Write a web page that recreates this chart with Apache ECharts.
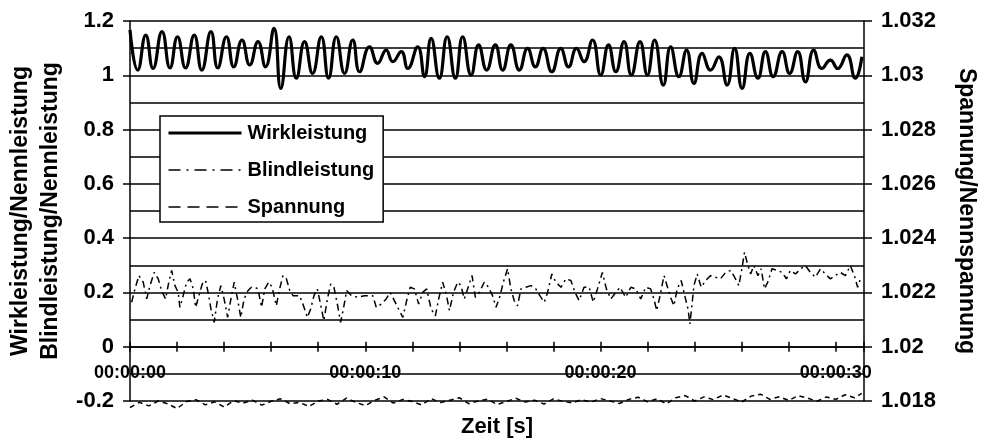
<!DOCTYPE html>
<html>
<head>
<meta charset="utf-8">
<script src="https://cdn.jsdelivr.net/npm/echarts@6/dist/echarts.min.js"></script>
<style>html,body{margin:0;padding:0;background:#fff}#c{width:981px;height:439px}</style>
</head>
<body>
<div id="c"></div>
<script>
// Wirkleistung (left axis): [time s, value]
const wirkPoints = [
[0.00,1.167],[0.33,1.019],[0.67,1.148],[0.98,1.025],[1.36,1.161],[1.70,1.027],[2.02,1.142],[2.36,1.027],[2.73,1.148],[3.05,1.019],
[3.44,1.161],[3.73,1.027],[4.10,1.142],[4.41,1.031],[4.76,1.130],[5.09,1.038],[5.44,1.124],[5.76,1.031],[6.12,1.173],[6.41,0.952],
[6.76,1.142],[7.07,0.989],[7.42,1.124],[7.76,1.007],[8.13,1.142],[8.44,0.989],[8.77,1.142],[9.12,1.007],[9.47,1.130],[9.76,1.013],
[10.18,1.105],[10.53,1.044],[10.89,1.093],[11.17,1.050],[11.53,1.087],[11.81,1.025],[12.23,1.105],[12.52,0.995],[12.80,1.136],[13.15,0.989],
[13.48,1.142],[13.83,0.989],[14.14,1.142],[14.50,1.001],[14.82,1.112],[15.16,1.019],[15.53,1.112],[15.84,1.019],[16.19,1.112],[16.55,1.019],
[16.90,1.099],[17.23,1.031],[17.56,1.099],[17.93,1.013],[18.31,1.099],[18.64,1.031],[18.98,1.099],[19.30,1.050],[19.66,1.130],[20.01,1.001],
[20.34,1.112],[20.65,1.013],[21.00,1.124],[21.31,1.001],[21.68,1.124],[21.99,1.001],[22.30,1.130],[22.67,0.964],[22.98,1.105],[23.33,0.995],
[23.66,1.093],[23.97,0.970],[24.32,1.081],[24.68,1.019],[25.03,1.068],[25.38,0.964],[25.70,1.099],[26.02,0.952],[26.35,1.081],[26.69,0.989],
[27.01,1.087],[27.34,0.995],[27.72,1.087],[28.04,1.007],[28.38,1.087],[28.71,0.976],[29.06,1.093],[29.41,1.025],[29.77,1.056],[30.08,1.025],
[30.47,1.075],[30.83,0.989],[31.11,1.068]
];
// Blindleistung (left axis)
const blindPoints = [
[0.07,0.164],[0.21,0.213],[0.38,0.262],[0.56,0.238],[0.71,0.176],[0.85,0.225],[1.03,0.274],[1.20,0.250],[1.34,0.207],[1.51,0.176],
[1.65,0.238],[1.77,0.281],[1.91,0.225],[2.05,0.200],[2.12,0.145],[2.26,0.188],[2.41,0.238],[2.55,0.250],[2.69,0.213],[2.79,0.145],
[2.93,0.188],[3.07,0.231],[3.21,0.244],[3.32,0.200],[3.44,0.139],[3.58,0.090],[3.72,0.176],[3.86,0.225],[4.00,0.176],[4.15,0.108],
[4.29,0.176],[4.43,0.238],[4.57,0.176],[4.71,0.108],[4.85,0.176],[5.02,0.207],[5.16,0.219],[5.30,0.219],[5.44,0.213],[5.59,0.145],
[5.73,0.213],[5.90,0.238],[6.04,0.219],[6.22,0.151],[6.36,0.213],[6.50,0.262],[6.65,0.250],[6.79,0.207],[6.93,0.188],[7.07,0.188],
[7.21,0.188],[7.35,0.157],[7.54,0.108],[7.68,0.139],[7.82,0.188],[7.96,0.213],[8.10,0.157],[8.24,0.096],[8.39,0.176],[8.53,0.231],
[8.67,0.219],[8.84,0.145],[8.95,0.090],[9.07,0.139],[9.21,0.207],[9.41,0.188],[9.69,0.182],[9.97,0.188],[10.32,0.188],[10.47,0.145],
[10.68,0.157],[10.89,0.176],[11.06,0.200],[11.20,0.176],[11.38,0.145],[11.60,0.108],[11.76,0.170],[11.91,0.219],[12.09,0.213],[12.27,0.157],
[12.44,0.200],[12.61,0.213],[12.80,0.139],[12.98,0.114],[13.12,0.176],[13.29,0.238],[13.44,0.194],[13.58,0.133],[13.75,0.200],[13.93,0.238],
[14.07,0.225],[14.21,0.176],[14.35,0.213],[14.54,0.262],[14.68,0.182],[14.85,0.200],[15.06,0.238],[15.24,0.219],[15.41,0.188],[15.56,0.145],
[15.73,0.188],[15.87,0.238],[16.05,0.287],[16.19,0.213],[16.33,0.170],[16.47,0.151],[16.62,0.213],[16.83,0.219],[17.04,0.225],[17.25,0.213],
[17.42,0.188],[17.61,0.164],[17.75,0.200],[17.93,0.268],[18.10,0.238],[18.32,0.219],[18.53,0.250],[18.74,0.244],[18.92,0.200],[19.09,0.170],
[19.30,0.219],[19.52,0.219],[19.69,0.164],[19.87,0.213],[20.08,0.274],[20.25,0.213],[20.44,0.176],[20.65,0.200],[20.83,0.219],[21.07,0.182],
[21.29,0.219],[21.50,0.213],[21.71,0.176],[21.92,0.219],[22.13,0.213],[22.27,0.176],[22.39,0.133],[22.53,0.188],[22.70,0.262],[22.87,0.213],
[22.98,0.182],[23.12,0.151],[23.26,0.213],[23.43,0.244],[23.58,0.188],[23.72,0.139],[23.80,0.084],[23.90,0.164],[23.97,0.225],[24.11,0.268],
[24.28,0.219],[24.47,0.244],[24.68,0.262],[24.89,0.256],[25.10,0.250],[25.32,0.274],[25.53,0.281],[25.70,0.256],[25.88,0.225],[26.02,0.293],
[26.12,0.348],[26.23,0.311],[26.38,0.268],[26.52,0.299],[26.69,0.262],[26.83,0.287],[26.97,0.213],[27.11,0.238],[27.29,0.287],[27.50,0.281],
[27.72,0.274],[27.90,0.250],[28.07,0.281],[28.29,0.268],[28.50,0.287],[28.71,0.299],[28.92,0.274],[29.13,0.256],[29.35,0.287],[29.56,0.268],
[29.77,0.250],[29.98,0.262],[30.19,0.274],[30.41,0.262],[30.62,0.299],[30.79,0.262],[30.93,0.219],[31.07,0.256]
];
// Spannung (right axis)
const spannPoints = [
[0.0,1.01776],[0.4,1.01795],[0.8,1.01782],[1.2,1.01800],[1.6,1.01790],[2.0,1.01772],[2.4,1.01798],[2.8,1.01805],[3.2,1.01786],[3.6,1.01797],
[4.0,1.01778],[4.4,1.01801],[4.8,1.01792],[5.2,1.01803],[5.6,1.01785],[6.0,1.01799],[6.4,1.01808],[6.8,1.01790],[7.2,1.01795],[7.6,1.01780],
[8.0,1.01800],[8.4,1.01806],[8.8,1.01788],[9.2,1.01811],[9.6,1.01795],[10.0,1.01783],[10.4,1.01802],[10.8,1.01815],[11.2,1.01792],[11.6,1.01806],
[12.0,1.01798],[12.4,1.01785],[12.8,1.01809],[13.2,1.01794],[13.6,1.01803],[14.0,1.01812],[14.4,1.01790],[14.8,1.01800],[15.2,1.01807],[15.6,1.01787],
[16.0,1.01798],[16.4,1.01810],[16.8,1.01796],[17.2,1.01803],[17.6,1.01789],[18.0,1.01808],[18.4,1.01799],[18.8,1.01793],[19.2,1.01805],[19.6,1.01796],
[20.0,1.01809],[20.4,1.01800],[20.8,1.01791],[21.2,1.01806],[21.6,1.01814],[22.0,1.01797],[22.4,1.01808],[22.8,1.01789],[23.2,1.01812],[23.6,1.01820],
[24.0,1.01800],[24.4,1.01815],[24.8,1.01805],[25.2,1.01822],[25.6,1.01810],[26.0,1.01796],[26.4,1.01818],[26.8,1.01825],[27.2,1.01806],[27.6,1.01816],
[28.0,1.01802],[28.4,1.01820],[28.8,1.01811],[29.2,1.01799],[29.6,1.01815],[30.0,1.01806],[30.4,1.01823],[30.8,1.01812],[31.1,1.01828]
];
const seriesNames = ['Wirkleistung', 'Blindleistung', 'Spannung'];
const timeLabelSeconds = [0, 10, 20, 30];

const FONT = '"Liberation Sans", Arial, sans-serif';
const txt = (size) => ({ color: '#000', fontFamily: FONT, fontWeight: 'bold', fontSize: size });
const pad2 = n => (n < 10 ? '0' : '') + n;
const hiddenSymbol = { color: 'rgba(0,0,0,0)', borderWidth: 0, opacity: 0 };

const chart = echarts.init(document.getElementById('c'), null, { renderer: 'canvas' });
chart.setOption({
  animation: false,
  backgroundColor: '#fff',
  grid: { left: 130, right: 117, top: 21, bottom: 38, containLabel: false, outerBoundsMode: 'none' },
  legend: {
    orient: 'vertical',
    left: 160, top: 116,
    padding: [7, 9, 5, 7],
    itemWidth: 73, itemHeight: 14, itemGap: 17,
    backgroundColor: '#fff', borderColor: '#000', borderWidth: 1.5,
    textStyle: Object.assign(txt(20), { padding: [0, 0, 0, 1] }),
    data: [
      { name: seriesNames[0], itemStyle: hiddenSymbol, lineStyle: { width: 3, type: 'solid', color: '#000' } },
      { name: seriesNames[1], itemStyle: hiddenSymbol, lineStyle: { width: 1.5, type: [12, 6, 2, 6], color: '#000' } },
      { name: seriesNames[2], itemStyle: hiddenSymbol, lineStyle: { width: 1.5, type: [12, 7], color: '#000' } }
    ]
  },
  xAxis: [{
    // labels and name at the bottom edge of the plot
    type: 'value', min: 0, max: 31.2, interval: 2,
    axisLine: { show: false, onZero: false },
    axisTick: { show: false },
    axisLabel: Object.assign(txt(18), {
      margin: -37, showMaxLabel: false,
      formatter: v => (timeLabelSeconds.indexOf(v) >= 0 ? '00:00:' + pad2(v) : '')
    }),
    splitLine: { show: false },
    name: 'Zeit [s]', nameLocation: 'middle', nameGap: 15, nameTextStyle: txt(22)
  }, {
    // axis line at zero with outward ticks
    type: 'value', min: 0, max: 31.2, interval: 2, position: 'bottom',
    axisLine: { show: true, onZero: true, onZeroAxisIndex: 0, lineStyle: { color: '#000', width: 1.5 } },
    axisTick: { show: true, length: 5, lineStyle: { color: '#000', width: 1.5 } },
    axisLabel: { show: false }, splitLine: { show: false }
  }, {
    // inward ticks so they cross the zero line
    type: 'value', min: 0, max: 31.2, interval: 2, position: 'bottom',
    axisLine: { show: false, onZero: true, onZeroAxisIndex: 0 },
    axisTick: { show: true, inside: true, length: 5, lineStyle: { color: '#000', width: 1.5 } },
    axisLabel: { show: false }, splitLine: { show: false }
  }],
  yAxis: [{
    type: 'value', min: -0.2, max: 1.2, interval: 0.2,
    axisLine: { show: true, onZero: false, lineStyle: { color: '#000', width: 1.5 } },
    axisTick: { show: true, length: 7, lineStyle: { color: '#000', width: 1.5 } },
    axisLabel: Object.assign(txt(22), { margin: 16 }),
    splitLine: { show: true, lineStyle: { color: '#000', width: 1.5 } },
    minorTick: { show: false, splitNumber: 2 },
    minorSplitLine: { show: true, lineStyle: { color: '#000', width: 1.5 } },
    name: 'Wirkleistung/Nennleistung\nBlindleistung/Nennleistung',
    nameLocation: 'middle', nameGap: 58,
    nameTextStyle: Object.assign(txt(23), { lineHeight: 30 })
  }, {
    type: 'value', min: 1.018, max: 1.032, interval: 0.002, position: 'right',
    axisLine: { show: true, onZero: false, lineStyle: { color: '#000', width: 1.5 } },
    axisTick: { show: true, length: 8, lineStyle: { color: '#000', width: 1.5 } },
    axisLabel: Object.assign(txt(22), { margin: 17 }),
    splitLine: { show: false },
    name: 'Spannung/Nennspannung', nameLocation: 'middle', nameGap: 91, nameRotate: -90,
    nameTextStyle: txt(23)
  }],
  series: [{
    name: seriesNames[0], type: 'line', xAxisIndex: 0, yAxisIndex: 0,
    data: wirkPoints, symbol: 'none', smooth: 0.5, z: 5,
    itemStyle: { color: '#000' },
    lineStyle: { color: '#000', width: 3.2 }
  }, {
    name: seriesNames[1], type: 'line', xAxisIndex: 0, yAxisIndex: 0,
    data: blindPoints, symbol: 'none', z: 4,
    itemStyle: { color: '#000' },
    lineStyle: { color: '#000', width: 1.5, type: [7, 4, 2, 4] }
  }, {
    name: seriesNames[2], type: 'line', xAxisIndex: 0, yAxisIndex: 1,
    data: spannPoints, symbol: 'none', clip: false, z: 4,
    itemStyle: { color: '#000' },
    lineStyle: { color: '#000', width: 1.5, type: [5, 4] }
  }]
});
</script>
</body>
</html>
